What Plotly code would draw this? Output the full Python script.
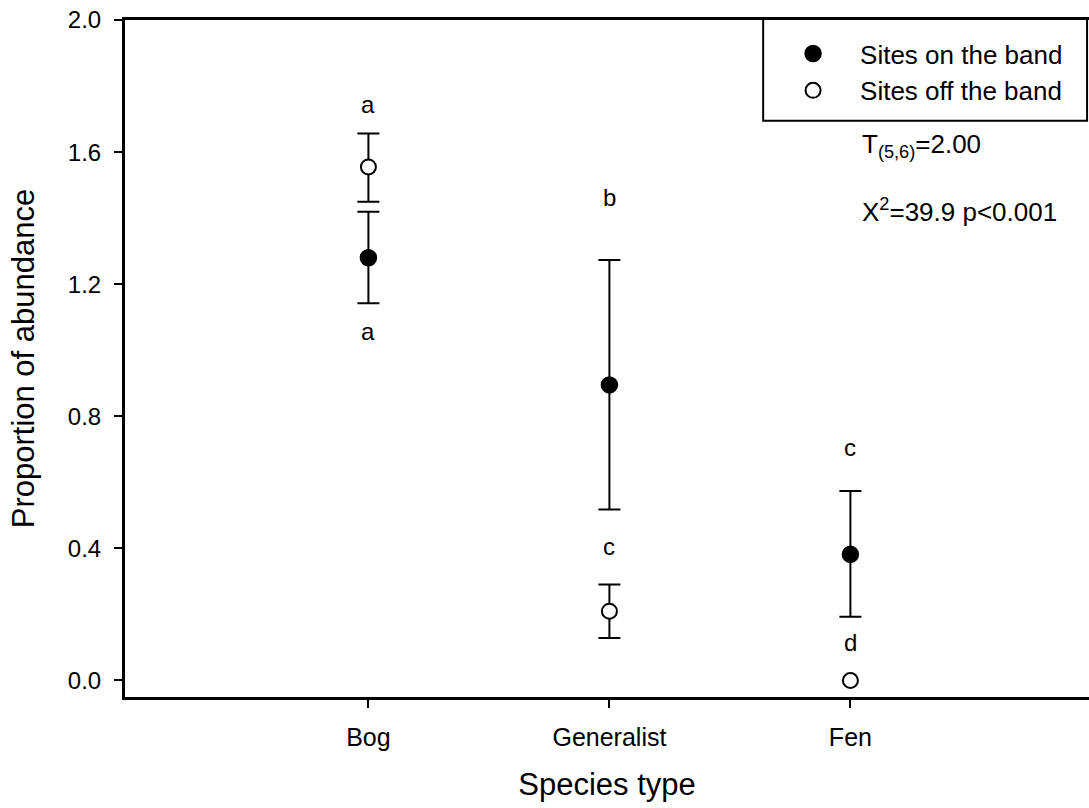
import plotly.graph_objects as go

# ---- data ----
categories = ["Bog", "Generalist", "Fen"]
cat_pos = [1, 2, 3]

on_band_mean = [1.28, 0.895, 0.382]
on_band_upper = [1.419, 1.273, 0.574]
on_band_lower = [1.142, 0.518, 0.193]

off_band_mean = [1.555, 0.21, 0.0]
off_band_upper = [1.656, 0.291, None]   # no error bar shown for Fen
off_band_lower = [1.45, 0.129, None]

letters_text = ["a", "a", "b", "c", "c", "d"]
letters_x = [1, 1, 2, 2, 3, 3]
letters_y = [1.744, 1.057, 1.463, 0.407, 0.706, 0.115]

y_ticks = [0.0, 0.4, 0.8, 1.2, 1.6, 2.0]

FONT = "Liberation Sans, Arial, sans-serif"


def err(mean, up, lo):
    # "NaN" strings make plotly.js skip the error bar for that point
    plus = [(u - m) if u is not None else "NaN" for m, u in zip(mean, up)]
    minus = [(m - l) if l is not None else "NaN" for m, l in zip(mean, lo)]
    return plus, minus


p1, m1 = err(on_band_mean, on_band_upper, on_band_lower)
p2, m2 = err(off_band_mean, off_band_upper, off_band_lower)

fig = go.Figure()
fig.add_trace(go.Scatter(
    x=cat_pos, y=on_band_mean, mode="markers", name="Sites on the band",
    marker=dict(symbol="circle", size=16, color="black", line=dict(color="black", width=1.5)),
    error_y=dict(type="data", symmetric=False, array=p1, arrayminus=m1,
                 color="black", thickness=2, width=11),
    legendgroup="on",
))
fig.add_trace(go.Scatter(
    x=cat_pos, y=off_band_mean, mode="markers", name="Sites off the band",
    marker=dict(symbol="circle", size=15, color="white", line=dict(color="black", width=2)),
    error_y=dict(type="data", symmetric=False, array=p2, arrayminus=m2,
                 color="black", thickness=2, width=11),
    legendgroup="off",
))

for t, x, y in zip(letters_text, letters_x, letters_y):
    fig.add_annotation(x=x, y=y, text=t, showarrow=False, xref="x", yref="y",
                       font=dict(family=FONT, size=24, color="black"))

# stats text
fig.add_annotation(x=0.762, y=0.815, xref="paper", yref="paper", xanchor="left", yanchor="middle",
                   text="T<sub>(5,6)</sub>=2.00", showarrow=False,
                   font=dict(family=FONT, size=26, color="black"))
fig.add_annotation(x=0.762, y=0.718, xref="paper", yref="paper", xanchor="left", yanchor="middle",
                   text="X<sup>2</sup>=39.9 p&lt;0.001", showarrow=False,
                   font=dict(family=FONT, size=26, color="black"))

# legend box
fig.add_shape(type="rect", xref="paper", yref="paper", x0=0.662, x1=0.998, y0=0.851, y1=1.0015,
              line=dict(color="black", width=2), fillcolor="rgba(0,0,0,0)", layer="above")

fig.update_layout(
    width=1089, height=808,
    margin=dict(l=125, r=0, t=20, b=111),
    paper_bgcolor="white", plot_bgcolor="white",
    font=dict(family=FONT, color="black"),
    showlegend=True,
    legend=dict(x=0.665, y=0.985, xanchor="left", yanchor="top",
                bgcolor="rgba(0,0,0,0)", borderwidth=0,
                font=dict(family=FONT, size=26, color="black"),
                tracegroupgap=0, itemwidth=84),
    xaxis=dict(range=[-0.01, 3.99], tickvals=cat_pos, ticktext=categories,
               showgrid=False, zeroline=False, showline=True, linecolor="black", linewidth=3,
               mirror=True, ticks="outside", ticklen=8, tickwidth=2, tickcolor="black",
               tickfont=dict(family=FONT, size=25), ticklabelstandoff=8,
               title=dict(text="Species type", font=dict(family=FONT, size=31), standoff=24)),
    yaxis=dict(range=[-0.05, 2.0], tickvals=y_ticks, ticktext=[f"{v:.1f}" for v in y_ticks],
               showgrid=False, zeroline=False, showline=True, linecolor="black", linewidth=3,
               ticks="outside", ticklen=8, tickwidth=2, tickcolor="black",
               tickfont=dict(family=FONT, size=24), ticklabelstandoff=8,
               title=dict(text="Proportion of abundance", font=dict(family=FONT, size=31), standoff=24)),
)

fig.write_html("out.html", config={"displayModeBar": False},
               post_script="document.body.style.margin='0';document.body.style.overflow='hidden';")
